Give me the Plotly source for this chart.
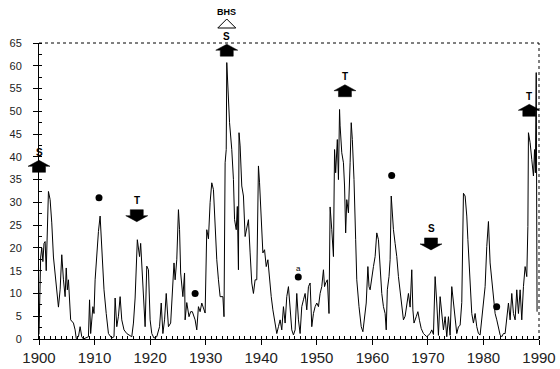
import plotly.graph_objects as go

# ---- time series ----
years = [1900.0, 1900.15, 1900.3, 1900.5, 1900.7, 1900.9, 1901.1, 1901.3, 1901.5, 1901.7,
         1902.0, 1902.3, 1902.6, 1902.9, 1903.2, 1903.5, 1903.8, 1904.1, 1904.4, 1904.7,
         1904.9, 1905.1, 1905.3, 1905.6, 1905.7, 1906.2, 1906.5, 1906.7, 1907.1, 1907.4,
         1907.7, 1908.0, 1908.9, 1909.1, 1909.3, 1909.7, 1909.9, 1910.1, 1910.4, 1910.7,
         1911.0, 1911.2, 1911.5, 1911.7, 1912.1, 1912.5, 1913.1, 1913.5, 1913.7, 1914.0,
         1914.3, 1914.6, 1914.9, 1915.3, 1915.8, 1916.7, 1917.0, 1917.3, 1917.7, 1918.1,
         1918.3, 1918.7, 1918.9, 1919.1, 1919.4, 1919.7, 1920.0, 1920.3, 1920.7, 1921.2,
         1921.7, 1922.0, 1922.3, 1922.6, 1922.9, 1923.1, 1923.3, 1923.7, 1924.1, 1924.3,
         1924.5, 1924.8, 1925.1, 1925.3, 1925.5, 1925.9, 1926.2, 1926.3, 1926.6, 1927.0,
         1927.3, 1927.6, 1928.1, 1928.4, 1928.7, 1929.0, 1929.3, 1929.6, 1929.9, 1930.2,
         1930.5, 1930.8, 1931.1, 1931.4, 1931.7, 1932.0, 1932.3, 1932.6, 1933.1, 1933.3,
         1933.5, 1933.7, 1933.8, 1934.0, 1934.3, 1934.7, 1935.0, 1935.2, 1935.5, 1935.7,
         1935.9, 1936.0, 1936.2, 1936.5, 1936.8, 1937.1, 1937.4, 1937.7, 1938.0, 1938.3,
         1938.6, 1938.9, 1939.2, 1939.5, 1939.7, 1940.0, 1940.3, 1940.6, 1940.9, 1941.2,
         1941.5, 1941.8, 1942.1, 1942.5, 1942.8, 1943.1, 1943.4, 1943.7, 1944.0, 1944.3,
         1944.6, 1944.9, 1945.2, 1945.5, 1945.8, 1946.1, 1946.4, 1946.7, 1947.0, 1947.3,
         1947.6, 1947.9, 1948.2, 1948.5, 1948.8, 1949.1, 1949.4, 1949.7, 1950.0, 1950.3,
         1950.6, 1950.9, 1951.2, 1951.4, 1951.6, 1951.9, 1952.2, 1952.4, 1952.7, 1953.0,
         1953.2, 1953.4, 1953.7, 1953.9, 1954.1, 1954.2, 1954.5, 1954.8, 1955.0, 1955.2,
         1955.4, 1955.7, 1956.0, 1956.2, 1956.4, 1956.7, 1957.0, 1957.2, 1957.6, 1958.0,
         1958.3, 1958.6, 1958.9, 1959.2, 1959.4, 1959.6, 1959.9, 1960.2, 1960.5, 1960.8,
         1961.1, 1961.4, 1961.7, 1962.0, 1962.3, 1962.5, 1962.7, 1963.0, 1963.2, 1963.4,
         1963.5, 1963.8, 1964.1, 1964.4, 1964.7, 1965.0, 1965.3, 1965.6, 1965.9, 1966.2,
         1966.5, 1966.8, 1967.1, 1967.3, 1967.5, 1967.9, 1968.2, 1968.5, 1968.8, 1969.2,
         1969.8, 1970.4, 1970.7, 1971.0, 1971.3, 1971.6, 1971.9, 1972.2, 1972.5, 1972.8,
         1973.1, 1973.4, 1973.7, 1974.0, 1974.3, 1974.6, 1974.9, 1975.2, 1975.5, 1975.8,
         1976.1, 1976.4, 1976.7, 1977.0, 1977.2, 1977.4, 1977.6, 1977.9, 1978.2, 1978.5,
         1978.8, 1979.1, 1979.4, 1979.7, 1980.0, 1980.3, 1980.6, 1980.9, 1981.2, 1981.5,
         1981.8, 1982.1, 1982.4, 1982.7, 1983.0, 1983.3, 1983.6, 1983.9, 1984.2, 1984.5,
         1984.8, 1985.1, 1985.4, 1985.7, 1986.0, 1986.3, 1986.6, 1986.9, 1987.2, 1987.5,
         1987.8, 1988.0, 1988.1, 1988.4, 1988.7, 1989.0, 1989.2, 1989.35, 1989.5, 1989.65]

values = [1.0, 12.0, 18.0, 20.0, 17.0, 21.0, 21.4, 15.0, 25.0, 32.4,
          30.6, 25.5, 18.0, 14.0, 10.8, 7.0, 10.8, 18.5, 13.0, 9.3,
          15.6, 10.8, 13.0, 7.0, 4.2, 3.5, 2.0, 0.1, 0.5, 2.7,
          0.5, 0.0, 0.5, 8.6, 1.2, 7.1, 5.6, 13.0, 18.9, 23.6,
          27.0, 21.8, 16.7, 10.8, 5.6, 1.2, 0.2, 0.5, 9.0, 2.7,
          5.0, 9.3, 4.2, 2.0, 1.2, 0.5, 3.5, 9.0, 21.8, 18.1,
          21.0, 13.0, 7.1, 2.7, 16.0, 15.2, 4.2, 1.2, 0.2, 0.5,
          2.7, 7.9, 1.2, 4.2, 10.0, 7.1, 2.7, 3.5, 11.5, 16.7,
          13.0, 17.4, 28.4, 24.0, 14.5, 9.3, 14.5, 4.2, 8.0, 4.9,
          6.0, 6.0, 4.2, 2.0, 7.1, 6.0, 7.9, 6.5, 5.7, 24.0,
          22.0, 30.0, 34.3, 32.8, 23.3, 17.4, 13.0, 9.3, 9.3, 4.9,
          38.7, 41.6, 60.7, 55.6, 47.5, 41.6, 35.0, 26.2, 24.0, 29.1,
          15.2, 45.3, 42.4, 33.6, 31.4, 22.5, 24.7, 26.2, 18.9, 12.3,
          10.0, 13.0, 13.0, 38.0, 34.3, 26.2, 18.9, 19.6, 15.9, 17.4,
          13.0, 9.3, 6.4, 3.5, 1.2, 2.7, 4.2, 2.0, 7.1, 3.5,
          9.3, 11.5, 5.5, 2.0, 0.9, 2.0, 10.0, 4.2, 1.2, 7.1,
          8.6, 10.0, 6.4, 11.5, 12.3, 2.7, 5.6, 7.1, 7.9, 7.1,
          10.0, 11.5, 15.2, 11.5, 12.3, 13.0, 5.6, 29.0, 24.0, 18.1,
          41.6, 36.5, 43.8, 35.0, 50.4, 46.8, 40.9, 38.7, 33.6, 23.3,
          30.6, 27.7, 38.7, 47.5, 43.8, 35.0, 21.8, 13.0, 7.1, 2.7,
          1.6, 4.2, 7.9, 15.9, 11.5, 10.8, 13.7, 15.9, 18.1, 23.3,
          21.8, 15.2, 10.0, 7.1, 5.6, 2.0, 10.8, 13.7, 17.4, 31.4,
          29.1, 24.0, 21.0, 18.1, 13.7, 10.8, 7.1, 4.2, 5.0, 7.1,
          10.0, 7.0, 15.2, 6.4, 3.5, 4.9, 6.0, 4.0, 2.3, 1.2,
          0.5, 1.2, 2.0, 1.0, 13.7, 7.9, 0.8, 9.3, 4.9, 2.0,
          4.9, 0.5, 4.9, 0.8, 11.5, 7.9, 4.9, 1.2, 2.7, 3.0,
          8.0, 32.0, 31.4, 27.0, 21.8, 16.7, 11.5, 5.6, 3.5, 5.6,
          2.7, 1.2, 0.9, 4.2, 7.1, 11.5, 20.3, 25.8, 16.7, 13.0,
          10.0, 5.6, 4.2, 2.7, 0.9, 0.5, 1.2, 1.2, 4.2, 7.9,
          4.2, 10.0, 5.6, 4.2, 10.8, 5.6, 10.8, 4.2, 11.5, 15.9,
          13.7, 24.7, 45.3, 43.1, 39.4, 35.8, 41.6, 36.5, 58.5, 6.0]

# ---- event markers ----
dot_years = [1910.8, 1928.1, 1946.67, 1963.48, 1982.38]
dot_values = [31.0, 10.0, 13.6, 35.9, 7.1]

up_arrow_years = [1955.07, 1988.25, 1933.8]
up_arrow_values = [54.3, 50.0, 63.2]
up_arrow_labels = ["T", "T", "S"]

down_arrow_years = [1917.6, 1970.56]
down_arrow_values = [27.3, 21.1]
down_arrow_labels = ["T", "S"]

edge_arrow_value = 37.7      # "S" arrow sitting on the left frame (year 1900)
edge_arrow_label = "S"
bhs_year = 1933.8
bhs_label = "BHS"
small_label_year = 1946.67
small_label_value = 15.4
small_label = "a"

y_ticks = [0, 5, 10, 15, 20, 25, 30, 35, 40, 45, 50, 55, 60, 65]
x_ticks = [1900, 1910, 1920, 1930, 1940, 1950, 1960, 1970, 1980, 1990]

UP_PATH = "M-11,1L0,7L11,1L6.5,1L6.5,-5L-6.5,-5L-6.5,1Z"
DOWN_PATH = "M-11,-1L0,-7L11,-1L6.5,-1L6.5,5L-6.5,5L-6.5,-1Z"
LABEL_FONT = dict(family="Liberation Sans, Arial, sans-serif", size=10, color="black")
CENTER = dict(xanchor="center", yanchor="middle", showarrow=False)

fig = go.Figure()
fig.add_trace(go.Scatter(x=years, y=values, mode="lines",
                         line=dict(color="black", width=1), showlegend=False,
                         hoverinfo="skip"))
fig.add_trace(go.Scatter(x=dot_years, y=dot_values, mode="markers",
                         marker=dict(symbol="circle", size=7, color="black"),
                         cliponaxis=False, showlegend=False, hoverinfo="skip"))

shapes = []
annotations = []
for xv, yv, lab in zip(up_arrow_years, up_arrow_values, up_arrow_labels):
    shapes.append(dict(type="path", xref="x", yref="y", xsizemode="pixel", ysizemode="pixel",
                       xanchor=xv, yanchor=yv, path=UP_PATH, fillcolor="black",
                       line=dict(color="black", width=0.5), layer="above"))
    annotations.append(dict(x=xv, y=yv, xref="x", yref="y", text="<b>%s</b>" % lab,
                            yshift=15, font=LABEL_FONT, **CENTER))
for xv, yv, lab in zip(down_arrow_years, down_arrow_values, down_arrow_labels):
    shapes.append(dict(type="path", xref="x", yref="y", xsizemode="pixel", ysizemode="pixel",
                       xanchor=xv, yanchor=yv, path=DOWN_PATH, fillcolor="black",
                       line=dict(color="black", width=0.5), layer="above"))
    annotations.append(dict(x=xv, y=yv, xref="x", yref="y", text="<b>%s</b>" % lab,
                            yshift=14, font=LABEL_FONT, **CENTER))

# arrow on the left frame edge
shapes.append(dict(type="path", xref="x domain", yref="y", xsizemode="pixel", ysizemode="pixel",
                   xanchor=0, yanchor=edge_arrow_value, path=UP_PATH, fillcolor="black",
                   line=dict(color="black", width=0.5), layer="above"))
annotations.append(dict(x=0, y=edge_arrow_value, xref="x domain", yref="y",
                        text="<b>%s</b>" % edge_arrow_label, yshift=15,
                        font=LABEL_FONT, **CENTER))

# open triangle + BHS above the frame
shapes.append(dict(type="path", xref="x", yref="y domain", xsizemode="pixel", ysizemode="pixel",
                   xanchor=bhs_year, yanchor=1, path="M-9,15L9,15L0,24Z",
                   fillcolor="white", line=dict(color="black", width=1), layer="above"))
annotations.append(dict(x=bhs_year, y=1, xref="x", yref="y domain", text="<b>%s</b>" % bhs_label,
                        yshift=31, font=dict(LABEL_FONT, size=9), **CENTER))
annotations.append(dict(x=small_label_year, y=small_label_value, xref="x", yref="y",
                        text=small_label, font=dict(LABEL_FONT, size=8), **CENTER))

# dotted top and right frame
shapes.append(dict(type="line", xref="x domain", yref="y domain", x0=0, x1=1, y0=1, y1=1,
                   line=dict(color="black", width=1, dash="dot")))
shapes.append(dict(type="line", xref="x domain", yref="y domain", x0=1, x1=1, y0=0, y1=1,
                   line=dict(color="black", width=1, dash="dot")))

fig.update_layout(
    width=560, height=369,
    margin=dict(l=39, r=21, t=43, b=30, autoexpand=False),
    paper_bgcolor="white", plot_bgcolor="white",
    shapes=shapes, annotations=annotations,
    xaxis=dict(range=[1900, 1990], tickvals=x_ticks, ticktext=[str(v) for v in x_ticks],
               automargin=False,
               showgrid=False, zeroline=False, showline=True, linecolor="black", linewidth=1,
               ticks="outside", ticklen=5, tickcolor="black",
               minor=dict(dtick=1, tick0=1900, ticks="inside", ticklen=3, tickcolor="black"),
               tickfont=dict(family="Liberation Sans, Arial, sans-serif", size=15, color="#222")),
    yaxis=dict(range=[0, 65], tickvals=y_ticks, ticktext=[str(v) for v in y_ticks],
               automargin=False,
               showgrid=False, zeroline=False, showline=True, linecolor="black", linewidth=1,
               ticks="outside", ticklen=5, tickcolor="black", ticklabelstandoff=9,
               minor=dict(dtick=2.5, tick0=0, ticks="inside", ticklen=3, tickcolor="black"),
               tickfont=dict(family="Liberation Sans, Arial, sans-serif", size=11, color="#222")),
)

fig.write_html("out.html", config={"displayModeBar": False},
               post_script="document.body.style.margin='0';document.body.style.overflow='hidden';")
